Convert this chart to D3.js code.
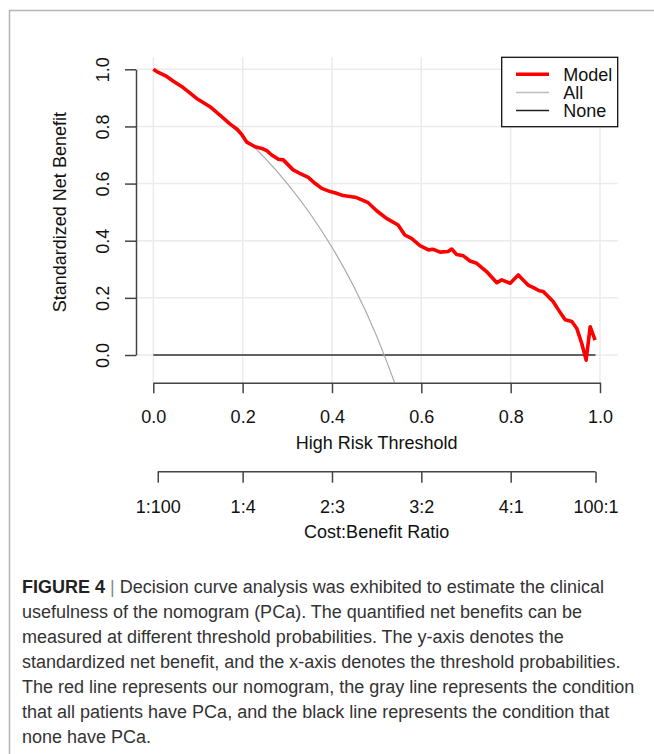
<!DOCTYPE html>
<html>
<head>
<meta charset="utf-8">
<script src="https://cdn.jsdelivr.net/npm/d3@7"></script>
<style>
  body { margin: 0; background: #fff; }
  svg { display: block; font-family: "Liberation Sans", Arial, sans-serif; }
</style>
</head>
<body>
<svg id="chart" width="654" height="754"></svg>
<script>
// model curve
var modelX = [0, 0.008, 0.03, 0.045, 0.067, 0.097, 0.127, 0.149, 0.172, 0.187, 0.198, 0.209,
  0.228, 0.243, 0.254, 0.265, 0.28, 0.291, 0.313, 0.328, 0.347, 0.362, 0.377, 0.396, 0.41,
  0.425, 0.44, 0.455, 0.481, 0.5, 0.522, 0.548, 0.563, 0.578, 0.597, 0.616, 0.627, 0.642,
  0.66, 0.668, 0.679, 0.694, 0.709, 0.724, 0.746, 0.769, 0.78, 0.799, 0.817, 0.839, 0.851,
  0.864, 0.873, 0.895, 0.907, 0.922, 0.937, 0.948, 0.959, 0.969, 0.978, 0.989];
var modelY = [1.0, 0.992, 0.975, 0.958, 0.936, 0.898, 0.869, 0.84, 0.808, 0.791, 0.772, 0.745,
  0.729, 0.723, 0.715, 0.70, 0.685, 0.683, 0.648, 0.636, 0.622, 0.601, 0.583, 0.572, 0.566,
  0.558, 0.555, 0.551, 0.533, 0.505, 0.478, 0.455, 0.42, 0.408, 0.383, 0.368, 0.37, 0.36,
  0.362, 0.371, 0.352, 0.347, 0.329, 0.321, 0.292, 0.253, 0.263, 0.251, 0.28, 0.245, 0.236,
  0.225, 0.222, 0.187, 0.158, 0.123, 0.117, 0.093, 0.041, -0.018, 0.099, 0.052];

// treat-all curve
var allX = [0, 0.05, 0.1, 0.15, 0.2, 0.25, 0.3, 0.35, 0.4, 0.45, 0.5, 0.54];
var allY = [1.0, 0.951, 0.896, 0.835, 0.766, 0.689, 0.600, 0.497, 0.377, 0.236, 0.066, -0.096];

// treat-none
var noneX = [0, 0.99];
var noneY = [0, 0];

var xTicks = [0, 0.2, 0.4, 0.6, 0.8, 1.0];
var yTicks = [0, 0.2, 0.4, 0.6, 0.8, 1.0];
var costTicks = [0.01, 0.2, 0.4, 0.6, 0.8, 0.99];
var costLabels = ["1:100", "1:4", "2:3", "3:2", "4:1", "100:1"];

var legendNames = ["Model", "All", "None"];

var captionLines = [
  "Decision curve analysis was exhibited to estimate the clinical",
  "usefulness of the nomogram (PCa). The quantified net benefits can be",
  "measured at different threshold probabilities. The y-axis denotes the",
  "standardized net benefit, and the x-axis denotes the threshold probabilities.",
  "The red line represents our nomogram, the gray line represents the condition",
  "that all patients have PCa, and the black line represents the condition that",
  "none have PCa."
];

var svg = d3.select("#chart");

// figure frame
svg.append("rect")
    .attr("x", 9.5).attr("y", 10.5)
    .attr("width", 700).attr("height", 800)
    .attr("fill", "none")
    .attr("stroke", "#b5b5b5")
    .attr("stroke-width", 1.5);

var x = d3.scaleLinear().domain([0, 1]).range([153.3, 600]);
var y = d3.scaleLinear().domain([0, 1]).range([355, 69.3]);

var plot = {left: 135.4, right: 617.9, top: 57, bottom: 382.7};

svg.append("clipPath").attr("id", "clip")
  .append("rect")
    .attr("x", plot.left).attr("y", plot.top)
    .attr("width", plot.right - plot.left)
    .attr("height", plot.bottom - plot.top);

// grid
var grid = svg.append("g").attr("stroke", "#ebebeb").attr("stroke-width", 1.5);
grid.selectAll(".gx").data(xTicks).enter().append("line")
    .attr("x1", d => x(d)).attr("x2", d => x(d))
    .attr("y1", plot.top).attr("y2", plot.bottom);
grid.selectAll(".gy").data(yTicks).enter().append("line")
    .attr("x1", plot.left).attr("x2", plot.right)
    .attr("y1", d => y(d)).attr("y2", d => y(d));

var line = d3.line()
    .x(d => x(d[0]))
    .y(d => y(d[1]));

var lines = svg.append("g").attr("clip-path", "url(#clip)").attr("fill", "none");

lines.append("path")
    .attr("d", line(d3.zip(noneX, noneY)))
    .attr("stroke", "#333")
    .attr("stroke-width", 1.6);

lines.append("path")
    .attr("d", line.curve(d3.curveMonotoneX)(d3.zip(allX, allY)))
    .attr("stroke", "#a8a8a8")
    .attr("stroke-width", 1.2);
line.curve(d3.curveLinear);

lines.append("path")
    .attr("d", line(d3.zip(modelX, modelY)))
    .attr("stroke", "#ff0000")
    .attr("stroke-width", 3.6)
    .attr("stroke-linejoin", "round");

function styleAxis(g) {
  g.selectAll("path, line").attr("stroke", "#444").attr("stroke-width", 1.5);
  g.selectAll("text").attr("fill", "#111").style("font-size", "18px")
    .style("font-family", "'Liberation Sans', Arial, sans-serif");
}

// threshold axis
var gx = svg.append("g")
    .attr("transform", "translate(0,382.7)")
    .call(d3.axisBottom(x).tickValues(xTicks).tickFormat(d3.format(".1f"))
      .tickSize(10.5).tickSizeOuter(0));
gx.call(styleAxis);
gx.selectAll("text").attr("y", 34.5).attr("dy", "0.35em");

svg.append("text")
    .attr("x", x(0.5)).attr("y", 443).attr("dy", "0.35em")
    .attr("text-anchor", "middle").attr("fill", "#111")
    .style("font-size", "18px")
    .text("High Risk Threshold");

// cost:benefit axis
var gc = svg.append("g")
    .attr("transform", "translate(0,471.7)")
    .call(d3.axisBottom(x).tickValues(costTicks)
      .tickFormat((d, i) => costLabels[i])
      .tickSize(11).tickSizeOuter(0));
gc.call(styleAxis);
gc.select(".domain").attr("d", "M" + x(0.01) + ",0H" + x(0.99));
gc.selectAll("text").attr("y", 35.5).attr("dy", "0.35em");

svg.append("text")
    .attr("x", x(0.5)).attr("y", 532).attr("dy", "0.35em")
    .attr("text-anchor", "middle").attr("fill", "#111")
    .style("font-size", "18px")
    .text("Cost:Benefit Ratio");

// y axis
var gy = svg.append("g")
    .attr("transform", "translate(136,0)")
    .call(d3.axisLeft(y).tickValues(yTicks).tickFormat(d3.format(".1f"))
      .tickSize(11).tickSizeOuter(0));
gy.call(styleAxis);
gy.selectAll("text")
    .attr("x", null).attr("y", null).attr("dy", "0.35em")
    .attr("text-anchor", "middle")
    .attr("transform", "translate(-33,0) rotate(-90)");

svg.append("text")
    .attr("transform", "translate(60," + ((y(0) + y(1)) / 2) + ") rotate(-90)")
    .attr("dy", "0.35em")
    .attr("text-anchor", "middle").attr("fill", "#111")
    .style("font-size", "18px")
    .text("Standardized Net Benefit");

// legend
var legend = svg.append("g");
legend.append("rect")
    .attr("x", 501.7).attr("y", 57.3)
    .attr("width", 116).attr("height", 69.4)
    .attr("fill", "#fff").attr("stroke", "#111").attr("stroke-width", 1.3);

var legendStyle = [
  {color: "#ff0000", width: 3.6},
  {color: "#bdbdbd", width: 1.5},
  {color: "#222", width: 1.5}
];
var ly = d3.scalePoint().domain(legendNames).range([74.3, 110.5]);

legend.selectAll(".ll").data(legendNames).enter().append("line")
    .attr("x1", 516).attr("x2", 549)
    .attr("y1", d => ly(d)).attr("y2", d => ly(d))
    .attr("stroke", (d, i) => legendStyle[i].color)
    .attr("stroke-width", (d, i) => legendStyle[i].width);

legend.selectAll(".lt").data(legendNames).enter().append("text")
    .attr("x", 563.3).attr("y", d => ly(d)).attr("dy", "0.35em")
    .attr("fill", "#111").style("font-size", "18px")
    .text(d => d);

// caption
var cap = svg.append("g")
    .style("font-size", "18px")
    .attr("fill", "#333");

cap.selectAll("text").data(captionLines).enter().append("text")
    .attr("x", 22)
    .attr("y", (d, i) => 593 + i * 25)
    .each(function(d, i) {
      var t = d3.select(this);
      if (i === 0) {
        t.append("tspan").style("font-weight", "bold").attr("fill", "#222").text("FIGURE 4");
        t.append("tspan").attr("fill", "#888").text(" | ");
      }
      t.append("tspan").text(d);
    });
</script>
</body>
</html>
